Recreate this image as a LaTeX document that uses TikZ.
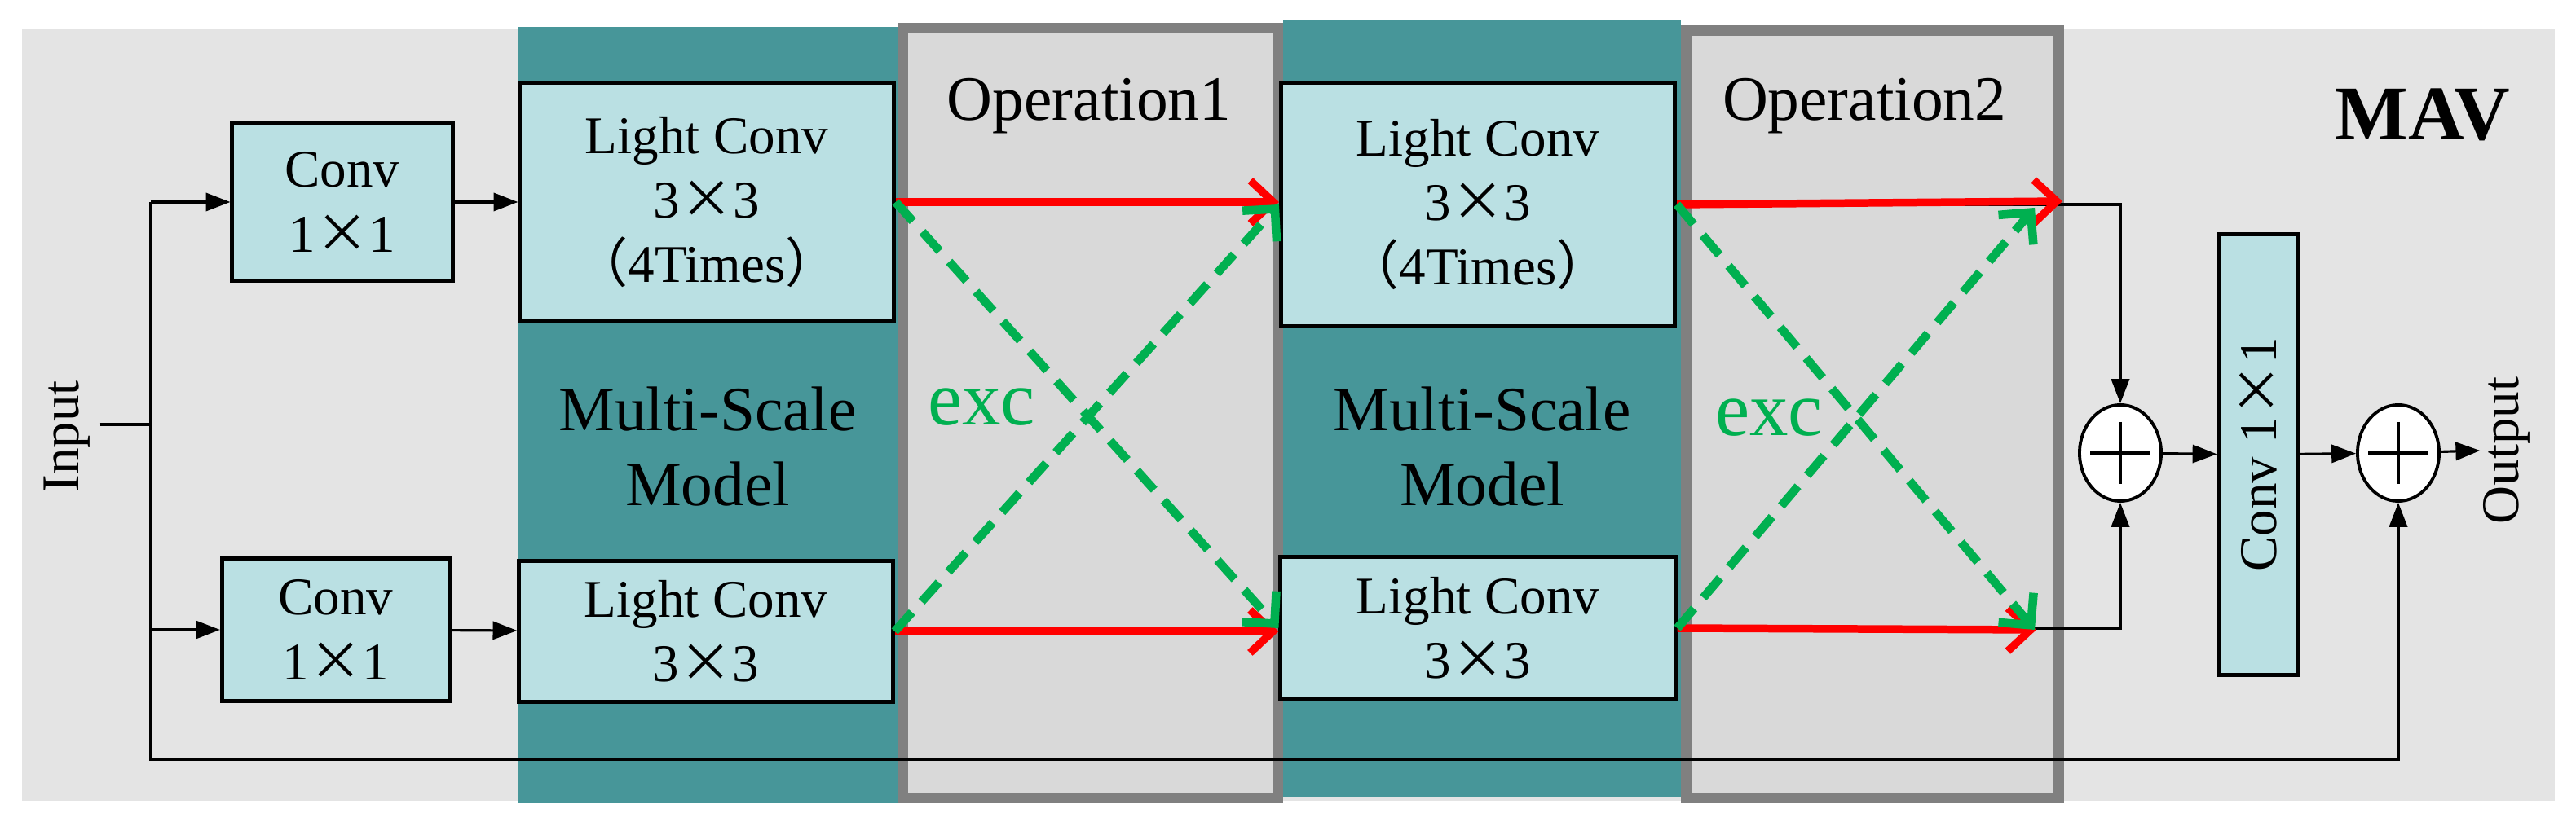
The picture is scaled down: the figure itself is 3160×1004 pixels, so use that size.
\documentclass[tikz,border=0pt]{standalone}
\usepackage{fontspec}
\setmainfont{Liberation Serif}
\newfontfamily\cjk{Noto Sans CJK SC}
\usepackage{xcolor}
\usepackage{tikz}
\usetikzlibrary{shapes.geometric, arrows.meta, positioning, calc}

\definecolor{bggray}{RGB}{228,228,228}
\definecolor{opgray}{RGB}{217,217,217}
\definecolor{msteal}{RGB}{71,150,153}
\definecolor{boxblue}{RGB}{186,224,227}
\definecolor{excgreen}{RGB}{0,176,80}
\newcommand{\kx}{{\cjk ×}}

\begin{document}
\begin{tikzpicture}[
    x=0.01cm, y=-0.01cm,
    box/.style={draw, line width=1.4pt, rectangle, fill=boxblue, align=center,
      inner sep=0pt, font=\fontsize{18.5}{22.5}\selectfont},
    opbox/.style={draw=gray, line width=3.7pt, fill=opgray},
    sumnode/.style={draw, shape=ellipse, fill=white, line width=1.1pt,
      minimum width=1cm, minimum height=1.18cm, inner sep=0pt},
    lbl/.style={font=\fontsize{18.5}{22.5}\selectfont},
    head/.style={font=\fontsize{22}{26}\selectfont, align=center},
    exclbl/.style={text=excgreen, font=\fontsize{27}{30}\selectfont, anchor=base},
    arrow/.style={line width=0.9pt, -{Triangle[length=8.5pt,width=6.3pt]}},
    redarrow/.style={red, line width=2.7pt, -{Straight Barb[length=8pt,width=15pt]}},
    excarrow/.style={excgreen, line width=3pt, dash pattern=on 9pt off 5pt,
      -{Straight Barb[length=8pt,width=16pt]}}
]
\useasboundingbox (0,0) rectangle (3160,1004);
\fill[bggray] (27,36) rectangle (3134,983);
\fill[msteal] (635,33) rectangle (1101,985);
\fill[msteal] (1574,25) rectangle (2062,978);
\draw[opbox] (1107.5,34.5) rectangle (1567.5,979.5);
\draw[opbox] (2068.5,37.5) rectangle (2525.5,979.5);

\node[box, minimum width=2.7cm, minimum height=1.92cm] (convtop) at (420,248) {Conv\\1\kx 1};
\node[box, minimum width=2.79cm, minimum height=1.75cm] (convbot) at (412,773) {Conv\\1\kx 1};
\node[box, minimum width=4.58cm, minimum height=2.93cm] (lighttl) at (867,248)
  {Light Conv\\3\kx 3\\{\cjk （}4Times{\cjk ）}};
\node[box, minimum width=4.58cm, minimum height=1.73cm] (lightbl) at (866,775) {Light Conv\\3\kx 3};
\node[box, minimum width=4.83cm, minimum height=2.99cm] (lighttr) at (1813,251)
  {Light Conv\\3\kx 3\\{\cjk （}4Times{\cjk ）}};
\node[box, minimum width=4.84cm, minimum height=1.74cm] (lightbr) at (1813,771) {Light Conv\\3\kx 3};
\node[box, rotate=90, minimum width=5.41cm, minimum height=0.96cm] (conv1x1) at (2770,558) {Conv 1\kx 1};
\node[sumnode] (sum1) at (2601,556) {};
\node[sumnode] (sum2) at (2942,556) {};

\node[lbl, rotate=90] (input) at (82,536) {Input};
\node[lbl, rotate=90, inner sep=1pt] (output) at (3075,553) {Output};
\node[head, anchor=base] (op1) at (1336,148) {Operation1};
\node[head, anchor=base] (op2) at (2287,148) {Operation2};
\node[head] (ms1) at (868,548) {Multi-Scale\\Model};
\node[head] (ms2) at (1818,548) {Multi-Scale\\Model};
\node[anchor=base, font=\fontsize{27}{30}\selectfont\bfseries] (mav) at (2972,172) {MAV};
\node[exclbl] (exc1) at (1204,522) {exc};
\node[exclbl] (exc2) at (2170,535) {exc};

\coordinate (split) at (185,521);
\coordinate (loop) at (185,932);
\coordinate (redend1) at (2530,247);
\coordinate (redend2) at (2498,773);
\coordinate (excend1) at (2496,255);
\coordinate (excend2) at (2496,773);

\draw[line width=0.9pt] (input.south |- split) -- (split);
\draw[arrow] (split |- convtop.west) -- (convtop.west);
\draw[arrow] (split |- convbot.west) -- (convbot.west);
\draw[arrow] (split |- convtop.west) -- (loop) -| (sum2.south);
\draw[arrow] (convtop) -- (lighttl);
\draw[arrow] (convbot) -- (lightbl);

\draw[redarrow] (lighttl.east) -- (lighttl.east -| lighttr.west);
\draw[redarrow] (lightbl.east) -- (lightbl.east -| lightbr.west);
\draw[excarrow] (lighttl.east) -- (lightbr.west);
\draw[excarrow] (lightbl.east) -- (lighttr.west);

\draw[arrow] (lighttr.east) -| (sum1.north);
\draw[arrow] (lightbr.east) -| (sum1.south);
\draw[redarrow] (lighttr.east) -- (redend1);
\draw[redarrow] (lightbr.east) -- (redend2);
\draw[excarrow] (lighttr.east) -- (excend2);
\draw[excarrow] (lightbr.east) -- (excend1);

\draw[arrow] (sum1) -- (conv1x1);
\draw[arrow] (conv1x1) -- (sum2);
\draw[arrow] (sum2) -- (output.north);
\foreach \s in {sum1,sum2}
  \draw[line width=0.9pt] (\s.center) +(-37,0) -- +(37,0) (\s.center) +(0,-38) -- +(0,38);
\end{tikzpicture}
\end{document}
